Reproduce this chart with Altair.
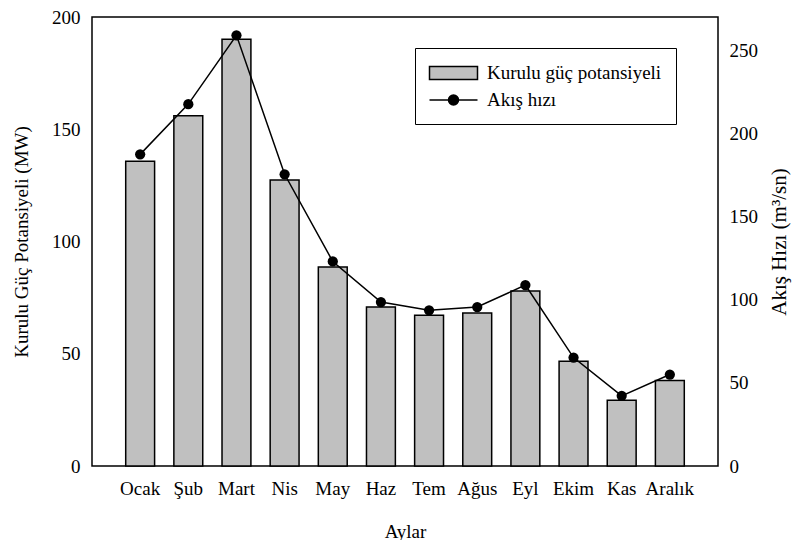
import altair as alt
import pandas as pd

months = ["Ocak", "Şub", "Mart", "Nis", "May", "Haz", "Tem", "Ağus", "Eyl", "Ekim", "Kas", "Aralık"]
power_mw = [135.7, 156.0, 190.1, 127.4, 88.6, 70.8, 67.1, 68.1, 77.9, 46.7, 29.3, 38.1]
flow_m3s = [187.4, 217.6, 259.0, 175.4, 123.0, 98.6, 93.6, 95.6, 108.8, 65.2, 42.2, 55.0]
left_ticks = [0, 50, 100, 150, 200]
right_ticks = [0, 50, 100, 150, 200, 250]
series_names = ["Kurulu güç potansiyeli", "Akış hızı"]

df = pd.DataFrame({"month": months, "power": power_mw, "flow": flow_m3s})

FONT = "Liberation Serif"

xenc = alt.X(
    "month:N",
    sort=months,
    scale=alt.Scale(paddingInner=0.4, paddingOuter=0.7),
    axis=alt.Axis(title="Aylar", labelAngle=0, ticks=False, domain=False,
                  labelFont=FONT, titleFont=FONT,
                  labelPadding=13, titlePadding=24),
)

rect_path = "M-1.05,-0.65L3.75,-0.65L3.75,0.65L-1.05,0.65Z"
line_path = "M-1.05,0L3.75,0M1.85,0A0.5,0.5,0,1,1,0.85,0A0.5,0.5,0,1,1,1.85,0Z"

legend = alt.Legend(
    title=None,
    orient="none",
    legendX=323,
    legendY=31,
    padding=14,
    rowPadding=6,
    labelOffset=36,
    labelLimit=0,
    symbolSize=400,
    symbolOpacity=1,
    symbolStrokeWidth=1.5,
    strokeColor="black",
    fillColor="white",
    labelFont=FONT,
    labelFontSize=19,
    labelColor="black",
)

bars = (
    alt.Chart(df)
    .mark_bar(fill="#c0c0c0", stroke="black", strokeWidth=1.5)
    .encode(
        x=xenc,
        y=alt.Y("power:Q", scale=alt.Scale(domain=[0, 200], nice=False),
                axis=alt.Axis(title="Kurulu Güç Potansiyeli (MW)", values=left_ticks,
                              ticks=False, domain=False, grid=False,
                              labelFont=FONT, titleFont=FONT,
                              labelPadding=12, titlePadding=20)),
    )
)

right_y = alt.Y("flow:Q", scale=alt.Scale(domain=[0, 270], nice=False),
                axis=alt.Axis(title="Akış Hızı (m³/sn)", orient="right", values=right_ticks,
                              ticks=False, domain=False, grid=False,
                              labelFont=FONT, titleFont=FONT, titleFontSize=21,
                              labelPadding=11, titlePadding=32, titleAngle=270))

line = (
    alt.Chart(df)
    .mark_line(color="black", strokeWidth=1.5)
    .encode(x=xenc, y=right_y)
)

points = (
    alt.Chart(df)
    .mark_point(filled=True, size=105, color="black", opacity=1)
    .encode(x=xenc, y=right_y)
)

legend_layer = (
    alt.Chart(df)
    .transform_calculate(series=f"'{series_names[1]}'")
    .mark_point(size=400, opacity=0, strokeWidth=1.5)
    .encode(
        x=xenc,
        y=right_y,
        fill=alt.Fill("series:N", scale=alt.Scale(domain=series_names, range=["#c0c0c0", "black"]), legend=legend),
        stroke=alt.Stroke("series:N", scale=alt.Scale(domain=series_names, range=["black", "black"]), legend=legend),
        shape=alt.Shape("series:N", scale=alt.Scale(domain=series_names, range=[rect_path, line_path]), legend=legend),
    )
)

right_layer = alt.layer(line, points, legend_layer)

chart = (
    alt.layer(bars, right_layer)
    .resolve_scale(y="independent")
    .properties(
        width=626,
        height=449,
        autosize=alt.AutoSizeParams(type="none"),
        padding={"left": 84, "top": 9, "right": 74, "bottom": 74},
    )
    .configure(font=FONT)
    .configure_view(stroke="black", strokeWidth=1.5)
    .configure_axis(
        labelFont=FONT, titleFont=FONT, labelFontSize=19, titleFontSize=19,
        titleFontWeight="normal", labelColor="black", titleColor="black", grid=False,
    )
)

chart.save("out.html", embed_options={"renderer": "svg", "actions": False})
